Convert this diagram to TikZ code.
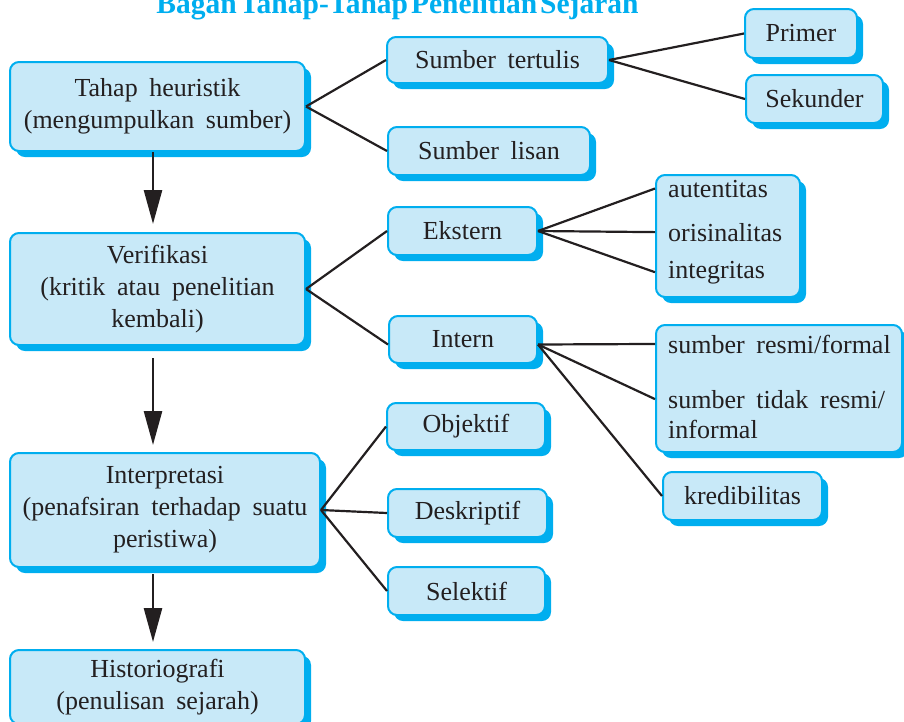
\documentclass[tikz,border=0pt]{standalone}
\usepackage{fontspec}
\setmainfont[WordSpace=1.8]{Liberation Serif}
\newfontfamily\titlefont[WordSpace=0.4]{Liberation Serif}
\usetikzlibrary{arrows.meta,shadows}
\definecolor{skyb}{HTML}{00AEEF}
\definecolor{boxfill}{HTML}{C8E9F8}
\definecolor{ink}{HTML}{231F20}
\begin{document}
\begin{tikzpicture}[x=1pt,y=-1pt,
  box/.style={draw=skyb, line width=2pt, fill=boxfill, rounded corners=9pt, inner sep=0pt,
    drop shadow={shadow xshift=6pt, shadow yshift=-6pt, fill=skyb, opacity=1},
    font=\fontsize{26}{32}\selectfont, text=ink, align=center},
  txt/.style={inner sep=0pt, font=\fontsize{26}{32}\selectfont, text=ink},
  conn/.style={draw=ink, line width=2.2pt},
  arr/.style={draw=ink, line width=2.6pt, -{Triangle[length=34pt,width=18pt]}}
]
\useasboundingbox (0,0) rectangle (904,721);

\node[anchor=base, text=skyb, inner sep=0pt, font=\fontsize{29.5}{31}\titlefont\bfseries] (title) at (397.5,13.5) {Bagan Tahap-Tahap Penelitian Sejarah};

% main column
\node[box, minimum width=295pt, minimum height=89pt] (heur) at (157.5,106.5) {Tahap heuristik\\(mengumpulkan sumber)};
\node[box, minimum width=295pt, minimum height=112pt] (verif) at (157.5,289) {Verifikasi\\(kritik atau penelitian\\kembali)};
\node[box, minimum width=310pt, minimum height=114pt] (interp) at (165,510) {Interpretasi\\(penafsiran terhadap suatu\\peristiwa)};
\node[box, minimum width=295pt, minimum height=74pt] (hist) at (157.5,687) {Historiografi\\(penulisan sejarah)};

% second column
\node[box, minimum width=221pt, minimum height=46pt] (stert) at (497.5,60) {Sumber tertulis};
\node[box, minimum width=202pt, minimum height=48pt] (slisan) at (489,151) {Sumber lisan};
\node[box, minimum width=149pt, minimum height=48pt] (ekstern) at (462.5,231) {Ekstern};
\node[box, minimum width=148pt, minimum height=47pt] (intern) at (463,339.5) {Intern};
\node[box, minimum width=158pt, minimum height=47pt] (obj) at (466,426.5) {Objektif};
\node[box, minimum width=159pt, minimum height=48pt] (desk) at (467.5,513) {Deskriptif};
\node[box, minimum width=157pt, minimum height=48pt] (sel) at (466.5,591) {Selektif};

% third column
\node[box, minimum width=112pt, minimum height=49pt] (primer) at (801,33.5) {Primer};
\node[box, minimum width=137pt, minimum height=48pt] (sekunder) at (814.5,99) {Sekunder};
\node[box, minimum width=144pt, minimum height=122pt] (aut) at (728,236) {};
\node[box, minimum width=246pt, minimum height=127pt] (resmi) at (779,388.5) {};
\node[box, minimum width=159pt, minimum height=48pt] (kred) at (742.5,496) {kredibilitas};

\node[txt, anchor=base west] (t1) at (668,197) {autentitas};
\node[txt, anchor=base west] (t2) at (668,241) {orisinalitas};
\node[txt, anchor=base west] (t3) at (668,278) {integritas};
\node[txt, anchor=base west] (r1) at (668,353) {sumber resmi/formal};
\node[txt, anchor=base west] (r2) at (668,408) {sumber tidak resmi/};
\node[txt, anchor=base west] (r3) at (668,438) {informal};

% connectors
\draw[conn] (heur.east) -- (stert.west);
\draw[conn] (heur.east) -- (slisan.west);
\draw[conn] (stert.east) -- (primer.west);
\draw[conn] (stert.east) -- (sekunder.west);
\draw[conn] (verif.east) -- (ekstern.west);
\draw[conn] (verif.east) -- ([yshift=-5pt]intern.west);
\draw[conn] (ekstern.east) -- (aut.west |- t1);
\draw[conn] (ekstern.east) -- (aut.west |- t2);
\draw[conn] (ekstern.east) -- (aut.west |- t3);
\draw[conn] ([yshift=-5pt]intern.east) -- (resmi.west |- r1);
\draw[conn] ([yshift=-5pt]intern.east) -- (resmi.west |- r2);
\draw[conn] ([yshift=-5pt]intern.east) -- (kred.west);
\draw[conn] (interp.east) -- (obj.west);
\draw[conn] (interp.east) -- (desk.west);
\draw[conn] (interp.east) -- (sel.west);

% arrows
\draw[arr] ([xshift=-4.5pt]heur.south) -- ([xshift=-4.5pt,yshift=8pt]verif.north);
\draw[arr] ([xshift=-4.5pt,yshift=-12pt]verif.south) -- ([xshift=-12pt,yshift=7pt]interp.north);
\draw[arr] ([xshift=-12pt,yshift=-6pt]interp.south) -- ([xshift=-4.5pt,yshift=7pt]hist.north);
\end{tikzpicture}
\end{document}
